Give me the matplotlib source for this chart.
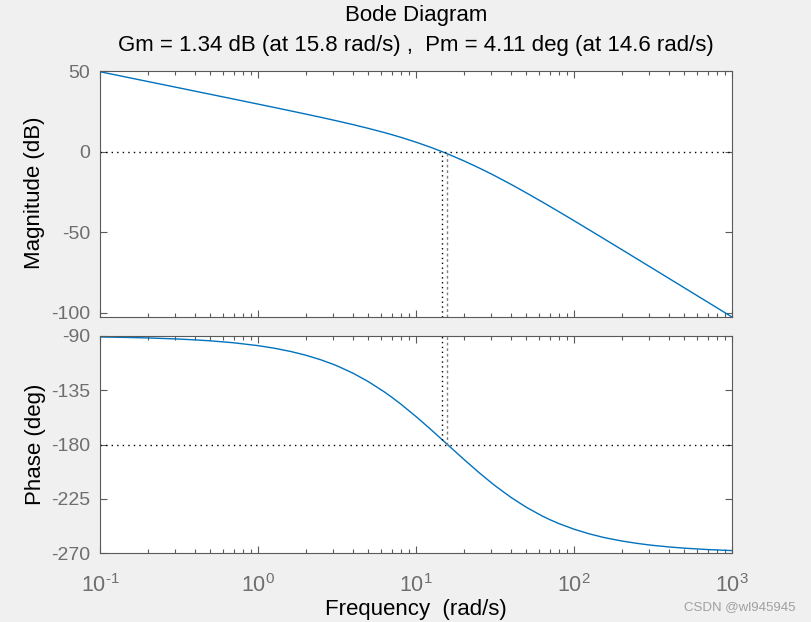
import matplotlib
matplotlib.use("Agg")
import matplotlib.pyplot as plt
from matplotlib.ticker import LogLocator, FixedLocator, FuncFormatter
import math

plt.rcParams['font.family'] = ['Liberation Sans', 'DejaVu Sans']
plt.rcParams['mathtext.default'] = 'regular'
plt.rcParams['mathtext.fontset'] = 'custom'
plt.rcParams['mathtext.rm'] = 'Liberation Sans'
plt.rcParams['axes.unicode_minus'] = False

# Data (frequency in rad/s)
freq = [0.1, 0.15, 0.2, 0.3, 0.4, 0.5, 0.7, 1, 1.25, 1.6, 2, 2.5, 3, 3.2, 4,
        5, 6.3, 7, 8, 10, 12, 12.5, 15, 16, 20, 25, 30, 32, 40, 50, 63, 70,
        80, 100, 125, 150, 160, 200, 250, 300, 320, 400, 500, 700, 1000]
mag_db = [49.54, 46.02, 43.52, 40.00, 37.49, 35.55, 32.62, 29.49, 27.53,
          25.33, 23.32, 21.28, 19.56, 18.95, 16.75, 14.42, 11.84, 10.58, 8.91,
          5.89, 3.18, 2.55, -0.43, -1.55, -5.62, -10.03, -13.87, -15.28,
          -20.31, -25.58, -31.20, -33.82, -37.16, -42.80, -48.51, -53.20,
          -54.87, -60.64, -66.43, -71.16, -72.84, -78.64, -84.45, -93.21,
          -102.50]
phase_deg = [-90.80, -91.20, -91.60, -92.41, -93.21, -94.01, -95.61, -98.00,
             -99.99, -102.75, -105.88, -109.75, -113.54, -115.04, -120.89,
             -127.88, -136.35, -140.63, -146.40, -156.80, -165.83, -167.91,
             -177.27, -180.61, -192.09, -203.20, -211.76, -214.65, -223.95,
             -232.12, -239.34, -242.22, -245.52, -250.25, -254.12, -256.73,
             -257.54, -260.01, -262.00, -263.33, -263.74, -264.99, -265.99,
             -267.13, -268.00]

gm_db, gm_freq = 1.34, 15.8
pm_deg, pm_freq = 4.11, 14.6
mag_ticks = [50, 0, -50, -100]
phase_ticks = [-90, -135, -180, -225, -270]

W, H = 811, 622
fig = plt.figure(figsize=(W / 100, H / 100), dpi=100)
fig.patch.set_facecolor('#f0f0f0')

gray = '#5a5a5a'
labgray = '#6e6e6e'
blue = '#0072BD'

def frac_rect(x0, y0, x1, y1):
    return [x0 / W, 1 - y1 / H, (x1 - x0) / W, (y1 - y0) / H]

ax1 = fig.add_axes(frac_rect(100, 71, 732, 317))
ax2 = fig.add_axes(frac_rect(100, 336, 732, 553))

def pow_label(v, pos):
    e = int(round(math.log10(v)))
    return r'$10^{\text{%d}}$' % e

for ax in (ax1, ax2):
    ax.set_xscale('log')
    ax.set_xlim(0.1, 1000)
    ax.xaxis.set_major_locator(LogLocator(base=10, numticks=10))
    ax.xaxis.set_minor_locator(LogLocator(base=10, subs=range(2, 10), numticks=20))
    ax.xaxis.set_major_formatter(FuncFormatter(pow_label))
    ax.tick_params(which='both', direction='in', top=True, right=True,
                   color=gray, labelcolor=labgray, labelsize=14, width=0.8)
    ax.tick_params(which='major', length=5)
    ax.tick_params(which='minor', length=3)
    ax.tick_params(axis='y', pad=7)
    for s in ax.spines.values():
        s.set_color(gray)
        s.set_linewidth(0.8)

ax1.plot(freq, mag_db, color=blue, lw=1.0)
ax1.set_ylim(-102.5, 50)
ax1.yaxis.set_major_locator(FixedLocator(mag_ticks))
ax1.tick_params(labelbottom=False)
ax1.axhline(0, color='black', ls=(0, (1, 3)), lw=1.0)
ax1.vlines([pm_freq], -102.5, 0, color='black', ls=(0, (1, 2.5)), lw=1.0)
ax1.vlines([gm_freq], -102.5, -gm_db, color='#808080', ls=(0, (2, 2)), lw=1.0)

ax2.plot(freq, phase_deg, color=blue, lw=1.0)
ax2.set_ylim(-270, -90)
ax2.yaxis.set_major_locator(FixedLocator(phase_ticks))
ax2.axhline(-180, color='black', ls=(0, (1, 3)), lw=1.0)
ax2.vlines([pm_freq], -180 + pm_deg, -90, color='black', ls=(0, (1, 2.5)), lw=1.0)
ax2.vlines([gm_freq], -180, -90, color='#808080', ls=(0, (2, 2)), lw=1.0)
ax2.tick_params(axis='x', pad=15, labelsize=15.5)

cx = 416 / W
fs = 16
fig.text(cx, 1 - 15 / H, 'Bode Diagram', ha='center', va='center', fontsize=fs)
fig.text(cx, 1 - 46 / H,
         f'Gm = {gm_db} dB (at {gm_freq} rad/s) ,  Pm = {pm_deg} deg (at {pm_freq} rad/s)',
         ha='center', va='center', fontsize=fs)
fig.text(35 / W, 1 - 193 / H, 'Magnitude (dB)', rotation=90, ha='center',
         va='center', fontsize=fs)
fig.text(35 / W, 1 - 444.5 / H, 'Phase (deg)', rotation=90, ha='center',
         va='center', fontsize=fs)
fig.text(cx, 1 - 610 / H, 'Frequency  (rad/s)', ha='center', va='center',
         fontsize=fs)
fig.text(795 / W, 1 - 607 / H, 'CSDN @wl945945', ha='right', va='center',
         fontsize=9.5, color='#a0a0a0')

fig.savefig('out.png', dpi=100, facecolor=fig.get_facecolor())
